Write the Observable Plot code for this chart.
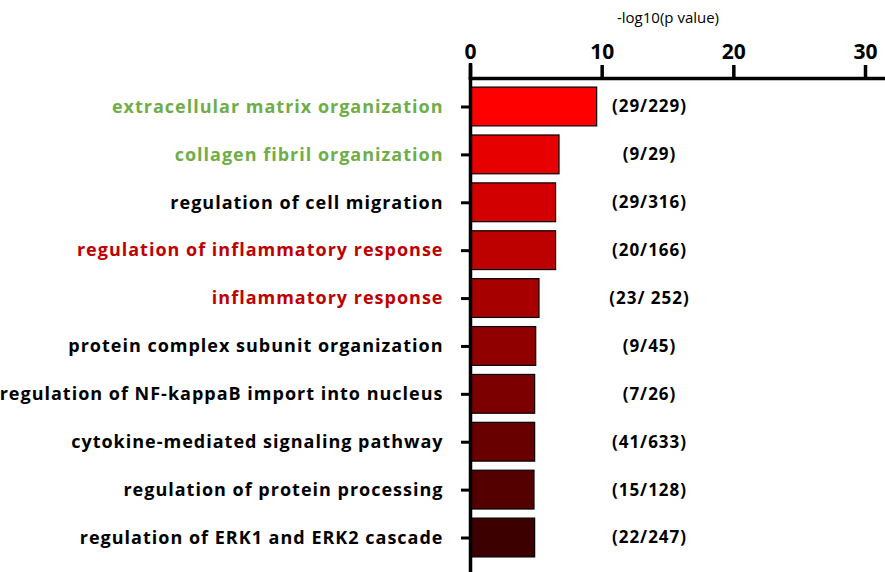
<!DOCTYPE html>
<html>
<head>
<meta charset="utf-8">
<script src="https://cdn.jsdelivr.net/npm/d3@7"></script>
<script src="https://cdn.jsdelivr.net/npm/@observablehq/plot@0.6"></script>
<style>
  html, body { margin: 0; padding: 0; background: #fff; }
  #chart svg { display: block; }
  g[aria-label="x-axis label"] text { font-size: 15px; font-weight: normal; }
  g[aria-label="y-axis tick label"] text { letter-spacing: 1px; }
  g[aria-label="text"] text { letter-spacing: 1px; }
</style>
</head>
<body>
<div id="chart"></div>
<script>
const terms = [
  "extracellular matrix organization",
  "collagen fibril organization",
  "regulation of cell migration",
  "regulation of inflammatory response",
  "inflammatory response",
  "protein complex subunit organization",
  "regulation of NF-kappaB import into nucleus",
  "cytokine-mediated signaling pathway",
  "regulation of protein processing",
  "regulation of ERK1 and ERK2 cascade"
];
const values = [9.62, 6.76, 6.5, 6.5, 5.24, 4.99, 4.91, 4.91, 4.86, 4.91];
const counts = ["(29/229)", "(9/29)", "(29/316)", "(20/166)", "(23/ 252)", "(9/45)", "(7/26)", "(41/633)", "(15/128)", "(22/247)"];
const barColors = ["#ff0000", "#e60000", "#d20000", "#bd0000", "#a60000", "#910000", "#7d0000", "#690000", "#550000", "#3c0000"];
const labelColors = ["#70ad47", "#70ad47", "#000000", "#c00000", "#c00000", "#000000", "#000000", "#000000", "#000000", "#000000"];
const xTicks = [0, 10, 20, 30];

const data = terms.map((t, i) => ({term: t, value: values[i], count: counts[i], color: barColors[i]}));
const labelColor = new Map(terms.map((t, i) => [t, labelColors[i]]));

const chart = Plot.plot({
  width: 885,
  height: 572,
  marginLeft: 470,
  marginRight: 20,
  marginTop: 78,
  marginBottom: 6,
  style: {fontFamily: "'Open Sans', sans-serif", background: "#fff"},
  x: {domain: [0, 30], ticks: xTicks},
  y: {domain: terms, padding: 0.19, round: false},
  marks: [
    Plot.barX(data, {y: "term", x: "value", fill: "color", stroke: "#000", strokeWidth: 1.2}),
    Plot.text(data, {y: "term", text: "count", frameAnchor: "left", dx: 179, textAnchor: "middle",
      fontSize: 17, fontWeight: "bold", fill: "#000"}),
    Plot.ruleX([0], {stroke: "#000", strokeWidth: 3.5, insetTop: -15, insetBottom: -6}),
    Plot.frame({anchor: "top", stroke: "#000", strokeWidth: 3.5, insetRight: -20}),
    Plot.axisX({anchor: "top", ticks: xTicks, tickSize: 14, tickPadding: 6, strokeWidth: 3.5,
      fontSize: 21, fontWeight: "bold", label: "-log10(p value)", labelAnchor: "center", labelOffset: 66, labelArrow: "none"}),
    Plot.axisY({anchor: "left", tickSize: 9, tickPadding: 18, strokeWidth: 3, fontSize: 18, fontWeight: "bold",
      fill: d => labelColor.get(d), label: null})
  ]
});
document.getElementById("chart").appendChild(chart);
</script>
</body>
</html>
